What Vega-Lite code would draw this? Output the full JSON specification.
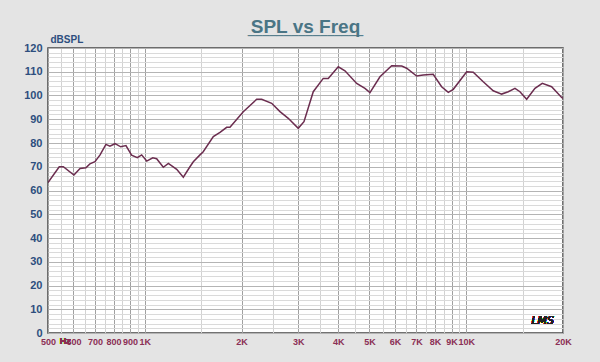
{
  "$schema": "https://vega.github.io/schema/vega-lite/v6.json",
  "width": 515,
  "height": 285,
  "autosize": {"type": "none"},
  "padding": {"left": 48, "top": 48, "right": 37, "bottom": 29},
  "background": "#e4e4e4",
  "title": {
    "text": "SPL vs Freq",
    "subtitle": "────────────────",
    "font": "Liberation Sans",
    "fontSize": 19,
    "fontWeight": "bold",
    "color": "#4a7585",
    "subtitleFont": "DejaVu Sans Mono",
    "subtitleFontSize": 12,
    "subtitleColor": "#4a7585",
    "subtitlePadding": -6,
    "anchor": "middle",
    "offset": -8
  },
  "config": {
    "view": {"fill": "white", "stroke": "#444444", "strokeWidth": 1.5},
    "font": "Liberation Sans"
  },
  "resolve": {"axis": {"x": "independent", "y": "independent"}},
  "data": {
    "values": [
      {"f": 500, "db": 63.3}, {"f": 542, "db": 70.0}, {"f": 558, "db": 70.0},
      {"f": 602, "db": 66.5}, {"f": 629, "db": 69.3}, {"f": 656, "db": 69.6},
      {"f": 675, "db": 71.2}, {"f": 700, "db": 72.1}, {"f": 726, "db": 75.0},
      {"f": 757, "db": 79.4}, {"f": 779, "db": 78.7}, {"f": 808, "db": 79.7},
      {"f": 842, "db": 78.4}, {"f": 874, "db": 78.9}, {"f": 910, "db": 74.9},
      {"f": 948, "db": 73.8}, {"f": 978, "db": 75.0}, {"f": 1014, "db": 72.4},
      {"f": 1059, "db": 73.8}, {"f": 1089, "db": 73.4}, {"f": 1142, "db": 69.8},
      {"f": 1184, "db": 71.4}, {"f": 1257, "db": 68.9}, {"f": 1318, "db": 65.6},
      {"f": 1382, "db": 70.0}, {"f": 1416, "db": 72.1}, {"f": 1485, "db": 75.0},
      {"f": 1520, "db": 76.3}, {"f": 1634, "db": 82.7}, {"f": 1714, "db": 84.5},
      {"f": 1798, "db": 86.6}, {"f": 1841, "db": 86.6}, {"f": 2025, "db": 93.2},
      {"f": 2229, "db": 98.4}, {"f": 2310, "db": 98.4}, {"f": 2482, "db": 96.7},
      {"f": 2634, "db": 93.2}, {"f": 2795, "db": 90.4}, {"f": 3002, "db": 86.2},
      {"f": 3128, "db": 89.0}, {"f": 3343, "db": 101.6}, {"f": 3591, "db": 107.2},
      {"f": 3722, "db": 107.2}, {"f": 3999, "db": 112.1}, {"f": 4195, "db": 110.4},
      {"f": 4563, "db": 105.1}, {"f": 4841, "db": 103.0}, {"f": 5018, "db": 101.2},
      {"f": 5390, "db": 107.9}, {"f": 5862, "db": 112.5}, {"f": 6299, "db": 112.4},
      {"f": 6526, "db": 111.5}, {"f": 7010, "db": 108.2}, {"f": 7349, "db": 108.6},
      {"f": 7894, "db": 108.9}, {"f": 8384, "db": 103.7}, {"f": 8793, "db": 101.3},
      {"f": 9114, "db": 102.6}, {"f": 10032, "db": 110.0}, {"f": 10516, "db": 109.8},
      {"f": 11296, "db": 105.8}, {"f": 12133, "db": 102.0}, {"f": 12887, "db": 100.6},
      {"f": 13511, "db": 101.6}, {"f": 14177, "db": 103.0}, {"f": 14694, "db": 101.6},
      {"f": 15417, "db": 98.4}, {"f": 16362, "db": 103.0}, {"f": 17242, "db": 105.1},
      {"f": 18433, "db": 103.7}, {"f": 19810, "db": 99.2}, {"f": 20000, "db": 98.8}
    ]
  },
  "layer": [
    {
      "mark": {"type": "line", "color": "#6b2d4f", "strokeWidth": 1.5, "clip": true},
      "encoding": {
        "x": {
          "field": "f",
          "type": "quantitative",
          "scale": {"type": "log", "domain": [500, 20000], "nice": false},
          "axis": {
            "title": null,
            "values": [500, 550, 600, 650, 700, 750, 800, 850, 900, 950, 1000, 1500, 2000, 2500, 3000, 3500, 4000, 4500, 5000, 5500, 6000, 6500, 7000, 7500, 8000, 8500, 9000, 9500, 10000, 15000, 20000],
            "labelExpr": "(datum.value < 1000 ? (datum.value % 100 === 0) : (datum.value % 1000 === 0 && datum.value !== 15000)) ? (datum.value >= 1000 ? (datum.value / 1000) + 'K' : '' + datum.value) : ''",
            "labelOverlap": false,
            "labelFlush": false,
            "labelBound": false,
            "labelFont": "Liberation Sans",
            "labelFontSize": 9,
            "labelFontWeight": "bold",
            "labelColor": "#8b2f55",
            "labelPadding": 4,
            "ticks": false,
            "domain": false,
            "grid": true,
            "gridColor": {
              "condition": {"test": "datum.value < 1000 ? (datum.value % 100 === 0) : (datum.value % 1000 === 0 && datum.value !== 15000)", "value": "#a0a0a0"},
              "value": "#d2d2d2"
            },
            "gridWidth": 1
          }
        },
        "y": {
          "field": "db",
          "type": "quantitative",
          "scale": {"domain": [0, 120], "nice": false},
          "axis": {
            "title": "dBSPL",
            "titleAngle": 0,
            "titleAlign": "left",
            "titleBaseline": "bottom",
            "titleX": 2,
            "titleY": -4,
            "titleFont": "Liberation Sans",
            "titleFontSize": 10,
            "titleFontWeight": "bold",
            "titleColor": "#2d4e7e",
            "values": [0, 2, 4, 6, 8, 10, 12, 14, 16, 18, 20, 22, 24, 26, 28, 30, 32, 34, 36, 38, 40, 42, 44, 46, 48, 50, 52, 54, 56, 58, 60, 62, 64, 66, 68, 70, 72, 74, 76, 78, 80, 82, 84, 86, 88, 90, 92, 94, 96, 98, 100, 102, 104, 106, 108, 110, 112, 114, 116, 118, 120],
            "labelExpr": "datum.value % 10 === 0 ? '' + datum.value : ''",
            "labelOverlap": false,
            "labelBound": false,
            "labelFlush": false,
            "labelFont": "Liberation Sans",
            "labelFontSize": 11,
            "labelFontWeight": "bold",
            "labelColor": "#2d4e7e",
            "labelPadding": 6,
            "ticks": false,
            "domain": false,
            "grid": true,
            "gridColor": {
              "condition": {"test": "datum.value % 10 === 0", "value": "#b4b4b4"},
              "value": "#dadada"
            },
            "gridWidth": 1
          }
        }
      }
    },
    {
      "mark": {"type": "text", "text": "Hz", "font": "Liberation Sans", "fontSize": 9, "fontWeight": "bold", "color": "#8b2f55", "baseline": "top", "align": "center", "dy": 4},
      "encoding": {
        "x": {"datum": 566, "type": "quantitative", "axis": null},
        "y": {"datum": 0, "type": "quantitative", "axis": null}
      }
    },
    {
      "mark": {"type": "text", "text": "LMS", "font": "DejaVu Sans", "fontSize": 11, "fontStyle": "italic", "fontWeight": "normal", "color": "#222222", "align": "center", "baseline": "middle"},
      "encoding": {
        "x": {"datum": 17300, "type": "quantitative", "axis": null},
        "y": {"datum": 5, "type": "quantitative", "axis": null}
      }
    }
  ]
}
